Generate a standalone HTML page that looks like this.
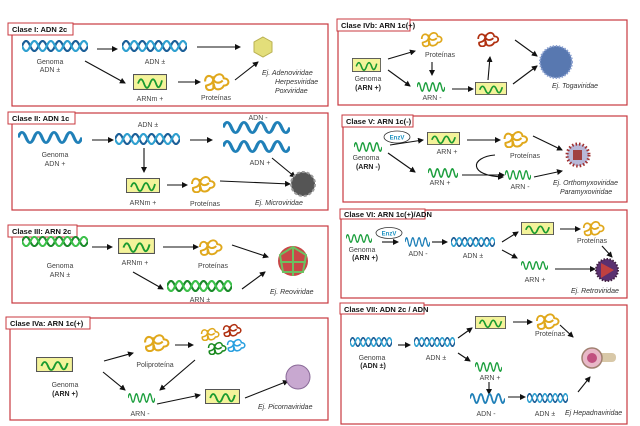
<!DOCTYPE html>
<html><head><meta charset="utf-8"><style>
html,body{margin:0;padding:0;background:#fff;}
svg{display:block;}
text{font-family:"Liberation Sans",sans-serif;font-size:7px;fill:#444;}
.t{font-weight:bold;font-size:7.5px;fill:#111;}
.b{font-weight:bold;fill:#222;}
.i{font-style:italic;fill:#333;}
.bx{fill:none;stroke:#c8393f;stroke-width:1.2;}
.tb{fill:#fff;stroke:#c8393f;stroke-width:1;}
.a{stroke:#111;stroke-width:1.1;fill:none;marker-end:url(#ah);}
</style></head><body>
<svg width="640" height="426" viewBox="0 0 640 426" xmlns="http://www.w3.org/2000/svg">
<defs>
<marker id="ah" markerWidth="6" markerHeight="6" refX="5" refY="3" orient="auto" markerUnits="userSpaceOnUse"><path d="M0 0L6 3L0 6z" fill="#111"/></marker>
<symbol id="hB" viewBox="0 0 64 12" preserveAspectRatio="none"><path d="M0 6 q4 -10 8 0 t8 0 t8 0 t8 0 t8 0 t8 0 t8 0 t8 0" stroke="#1b5f98" stroke-width="2.2" fill="none"/><path d="M0 6 q4 10 8 0 t8 0 t8 0 t8 0 t8 0 t8 0 t8 0 t8 0" stroke="#2fa0d0" stroke-width="2.2" fill="none"/></symbol>
<symbol id="hG" viewBox="0 0 64 12" preserveAspectRatio="none"><path d="M0 6 q4 -10 8 0 t8 0 t8 0 t8 0 t8 0 t8 0 t8 0 t8 0" stroke="#1a8a2a" stroke-width="2.2" fill="none"/><path d="M0 6 q4 10 8 0 t8 0 t8 0 t8 0 t8 0 t8 0 t8 0 t8 0" stroke="#3cc04a" stroke-width="2.2" fill="none"/></symbol>
<symbol id="wB" viewBox="0 0 40 10" preserveAspectRatio="none"><path d="M0 5 q2.5 -8 5 0 t5 0 t5 0 t5 0 t5 0 t5 0 t5 0 t5 0" stroke="#2080b8" stroke-width="2" fill="none"/></symbol>
<symbol id="wG" viewBox="0 0 40 10" preserveAspectRatio="none"><path d="M0 5 q2.5 -8 5 0 t5 0 t5 0 t5 0 t5 0 t5 0 t5 0 t5 0" stroke="#1fa040" stroke-width="2" fill="none"/></symbol>
<symbol id="rb" viewBox="0 0 34 15" preserveAspectRatio="none"><rect x="0.5" y="0.5" width="33" height="14" fill="#f4f39a" stroke="#555" stroke-width="1"/><path d="M5 9 q3 -8 6 0 t6 0 t6 0 t6 -3" stroke="#1a9a30" stroke-width="1.8" fill="none"/></symbol>
<symbol id="p" viewBox="0 0 26 18"><path d="M2 9 c0 -7 7 -7 8 -1 c1 -7 9 -8 10 -2 c6 0 6 7 0 7 c-2 4 -8 5 -9 1 c-2 5 -9 4 -8 -1 c3 -1 6 -1 7 -6 c2 4 6 4 9 1 M10 4 v12" stroke="currentColor" stroke-width="2" fill="none"/></symbol>
</defs>

<!-- Clase I -->
<rect class="bx" x="12" y="24" width="316" height="82"/>
<rect class="tb" x="8" y="23" width="65" height="12"/><text class="t" x="12" y="32">Clase I: ADN 2c</text>
<use href="#hB" x="22" y="40" width="66" height="12"/>
<text x="50" y="64" text-anchor="middle">Genoma</text><text x="50" y="72" text-anchor="middle">ADN ±</text>
<line class="a" x1="97" y1="49" x2="117" y2="49"/>
<use href="#hB" x="122" y="40" width="65" height="12"/>
<text x="155" y="64" text-anchor="middle">ADN ±</text>
<line class="a" x1="197" y1="47" x2="240" y2="47"/>
<polygon points="263,37 272,42 272,52 263,57 254,52 254,42" fill="#e3de7a" stroke="#b9b050"/>
<line class="a" x1="85" y1="61" x2="125" y2="83"/>
<use href="#rb" x="133" y="74" width="34" height="16"/>
<text x="150" y="101" text-anchor="middle">ARNm +</text>
<line class="a" x1="178" y1="82" x2="200" y2="82"/>
<use href="#p" x="203" y="72" width="27" height="19" color="#e0a81c"/>
<text x="216" y="100" text-anchor="middle">Proteínas</text>
<line class="a" x1="235" y1="80" x2="258" y2="62"/>
<text class="i" x="262" y="75">Ej. Adenoviridae</text>
<text class="i" x="275" y="84">Herpesviridae</text>
<text class="i" x="275" y="93">Poxviridae</text>

<!-- Clase II -->
<rect class="bx" x="12" y="113" width="316" height="97"/>
<rect class="tb" x="8" y="112" width="67" height="12"/><text class="t" x="12" y="121">Clase II: ADN 1c</text>
<use href="#wB" x="18" y="131" width="64" height="13"/>
<text x="55" y="157" text-anchor="middle">Genoma</text><text x="55" y="166" text-anchor="middle">ADN +</text>
<line class="a" x1="92" y1="140" x2="113" y2="140"/>
<use href="#hB" x="115" y="133" width="65" height="12"/>
<text x="148" y="127" text-anchor="middle">ADN ±</text>
<line class="a" x1="190" y1="140" x2="212" y2="140"/>
<text x="258" y="120" text-anchor="middle">ADN -</text>
<use href="#wB" x="223" y="121" width="67" height="13"/>
<use href="#wB" x="223" y="140" width="67" height="13"/>
<text x="260" y="165" text-anchor="middle">ADN +</text>
<line class="a" x1="144" y1="148" x2="144" y2="172"/>
<use href="#rb" x="126" y="178" width="34" height="15"/>
<text x="143" y="205" text-anchor="middle">ARNm +</text>
<line class="a" x1="167" y1="185" x2="187" y2="185"/>
<use href="#p" x="190" y="175" width="26" height="18" color="#e0a81c"/>
<text x="205" y="206" text-anchor="middle">Proteínas</text>
<line class="a" x1="220" y1="181" x2="290" y2="184"/>
<line class="a" x1="272" y1="158" x2="295" y2="177"/>
<circle cx="303" cy="184" r="12" fill="#555" stroke="#999" stroke-width="2" stroke-dasharray="3 2"/>
<text class="i" x="255" y="205">Ej. Microviridae</text>

<!-- Clase III -->
<rect class="bx" x="12" y="226" width="316" height="77"/>
<rect class="tb" x="8" y="225" width="69" height="12"/><text class="t" x="12" y="234">Clase III: ARN 2c</text>
<use href="#hG" x="22" y="236" width="66" height="11"/>
<text x="60" y="268" text-anchor="middle">Genoma</text><text x="60" y="277" text-anchor="middle">ARN ±</text>
<line class="a" x1="92" y1="247" x2="112" y2="247"/>
<use href="#rb" x="118" y="238" width="37" height="16"/>
<text x="135" y="265" text-anchor="middle">ARNm +</text>
<line class="a" x1="163" y1="247" x2="198" y2="247"/>
<use href="#p" x="198" y="238" width="25" height="18" color="#e0a81c"/>
<text x="213" y="268" text-anchor="middle">Proteínas</text>
<line class="a" x1="232" y1="245" x2="268" y2="257"/>
<line class="a" x1="133" y1="272" x2="163" y2="289"/>
<use href="#hG" x="167" y="280" width="65" height="12"/>
<text x="200" y="302" text-anchor="middle">ARN ±</text>
<line class="a" x1="242" y1="289" x2="265" y2="272"/>
<circle cx="293" cy="261" r="15" fill="#c84848"/>
<path d="M280 255 L293 247 L306 255 L303 272 L283 272 Z M293 247 L293 276 M280 262 L306 262" stroke="#6cc060" stroke-width="2" fill="none"/>
<text class="i" x="270" y="294">Ej. Reoviridae</text>

<!-- Clase IVa -->
<rect class="bx" x="10" y="318" width="318" height="102"/>
<rect class="tb" x="6" y="317" width="84" height="12"/><text class="t" x="10" y="326">Clase IVa: ARN 1c(+)</text>
<use href="#rb" x="36" y="357" width="37" height="15"/>
<text x="65" y="387" text-anchor="middle">Genoma</text><text class="b" x="65" y="396" text-anchor="middle">(ARN +)</text>
<line class="a" x1="104" y1="361" x2="133" y2="353"/>
<use href="#p" x="143" y="333" width="27" height="19" color="#e0a81c"/>
<text x="155" y="367" text-anchor="middle">Poliproteína</text>
<line class="a" x1="175" y1="345" x2="193" y2="345"/>
<use href="#p" x="200" y="327" width="20" height="14" color="#e0a81c"/>
<use href="#p" x="222" y="323" width="20" height="14" color="#b03010"/>
<use href="#p" x="207" y="341" width="20" height="14" color="#1a8a20"/>
<use href="#p" x="226" y="338" width="20" height="14" color="#2aa0e0"/>
<line class="a" x1="103" y1="372" x2="125" y2="390"/>
<line class="a" x1="195" y1="360" x2="160" y2="390"/>
<use href="#wG" x="128" y="393" width="27" height="10"/>
<text x="140" y="416" text-anchor="middle">ARN -</text>
<line class="a" x1="157" y1="404" x2="200" y2="395"/>
<use href="#rb" x="205" y="389" width="35" height="15"/>
<line class="a" x1="245" y1="398" x2="288" y2="381"/>
<circle cx="298" cy="377" r="12" fill="#c8a8d0" stroke="#8a6a98"/>
<text class="i" x="258" y="409">Ej. Picornaviridae</text>

<!-- Clase IVb -->
<rect class="bx" x="338" y="20" width="289" height="85"/>
<rect class="tb" x="337" y="19" width="73" height="12"/><text class="t" x="341" y="28">Clase IVb: ARN 1c(+)</text>
<use href="#rb" x="352" y="58" width="29" height="14"/>
<text x="368" y="81" text-anchor="middle">Genoma</text><text class="b" x="368" y="90" text-anchor="middle">(ARN +)</text>
<line class="a" x1="388" y1="59" x2="415" y2="51"/>
<use href="#p" x="420" y="30" width="23" height="18" color="#e0a81c"/>
<text x="440" y="57" text-anchor="middle">Proteínas</text>
<line class="a" x1="432" y1="62" x2="432" y2="75"/>
<line class="a" x1="388" y1="70" x2="410" y2="86"/>
<use href="#wG" x="417" y="82" width="28" height="10"/>
<text x="432" y="100" text-anchor="middle">ARN -</text>
<line class="a" x1="452" y1="89" x2="473" y2="89"/>
<use href="#rb" x="475" y="82" width="32" height="13"/>
<line class="a" x1="488" y1="80" x2="490" y2="57"/>
<use href="#p" x="475" y="31" width="26" height="16" color="#b03010"/>
<line class="a" x1="515" y1="40" x2="537" y2="56"/>
<line class="a" x1="513" y1="84" x2="537" y2="66"/>
<circle cx="556" cy="62" r="16" fill="#5878b0" stroke="#8aa0d0" stroke-width="2" stroke-dasharray="1.5 1.5"/>
<text class="i" x="552" y="88">Ej. Togaviridae</text>

<!-- Clase V -->
<rect class="bx" x="343" y="116" width="284" height="86"/>
<rect class="tb" x="342" y="115" width="71" height="12"/><text class="t" x="346" y="124">Clase V: ARN 1c(-)</text>
<use href="#wG" x="354" y="142" width="28" height="10"/>
<text x="366" y="160" text-anchor="middle">Genoma</text><text class="b" x="368" y="169" text-anchor="middle">(ARN -)</text>
<ellipse cx="397" cy="137" rx="13" ry="6" fill="#fff" stroke="#333" stroke-width="0.8"/>
<text x="397" y="139.5" text-anchor="middle" style="fill:#1a90c0;font-weight:bold;font-size:6px">EnzV</text>
<line class="a" x1="390" y1="145" x2="423" y2="140"/>
<use href="#rb" x="427" y="132" width="33" height="13"/>
<text x="447" y="154" text-anchor="middle">ARN +</text>
<line class="a" x1="467" y1="140" x2="500" y2="140"/>
<use href="#p" x="502" y="130" width="27" height="18" color="#e0a81c"/>
<text x="525" y="158" text-anchor="middle">Proteínas</text>
<line class="a" x1="533" y1="136" x2="562" y2="150"/>
<circle cx="578" cy="155" r="11" fill="#b8b8d8" stroke="#a03030" stroke-width="3" stroke-dasharray="1.5 2"/>
<rect x="573" y="150" width="9" height="10" fill="#a04040"/>
<line class="a" x1="388" y1="153" x2="415" y2="172"/>
<use href="#wG" x="428" y="168" width="30" height="10"/>
<text x="440" y="185" text-anchor="middle">ARN +</text>
<line class="a" x1="462" y1="175" x2="504" y2="175"/>
<path class="a" d="M495 155 C470 157 468 176 503 177"/>
<use href="#wG" x="505" y="170" width="26" height="10"/>
<text x="520" y="189" text-anchor="middle">ARN -</text>
<line class="a" x1="534" y1="177" x2="562" y2="171"/>
<text class="i" x="553" y="185">Ej. Orthomyxoviridae</text>
<text class="i" x="560" y="194">Paramyxoviridae</text>

<!-- Clase VI -->
<rect class="bx" x="341" y="210" width="286" height="88"/>
<rect class="tb" x="340" y="209" width="85" height="10"/><text class="t" x="344" y="217">Clase VI: ARN 1c(+)/ADN</text>
<use href="#wG" x="346" y="234" width="26" height="9"/>
<text x="362" y="252" text-anchor="middle">Genoma</text><text class="b" x="365" y="260" text-anchor="middle">(ARN +)</text>
<ellipse cx="389" cy="233" rx="13" ry="5.5" fill="#fff" stroke="#333" stroke-width="0.8"/>
<text x="389" y="235.5" text-anchor="middle" style="fill:#1a90c0;font-weight:bold;font-size:6px">EnzV</text>
<line class="a" x1="382" y1="242" x2="398" y2="242"/>
<use href="#wB" x="405" y="237" width="25" height="10"/>
<text x="418" y="256" text-anchor="middle">ADN -</text>
<line class="a" x1="432" y1="242" x2="447" y2="242"/>
<use href="#hB" x="451" y="237" width="44" height="10"/>
<text x="473" y="258" text-anchor="middle">ADN ±</text>
<line class="a" x1="502" y1="242" x2="518" y2="232"/>
<use href="#rb" x="521" y="222" width="33" height="13"/>
<line class="a" x1="560" y1="229" x2="580" y2="229"/>
<use href="#p" x="582" y="219" width="23" height="18" color="#e0a81c"/>
<text x="592" y="243" text-anchor="middle">Proteínas</text>
<line class="a" x1="602" y1="246" x2="612" y2="257"/>
<line class="a" x1="502" y1="250" x2="517" y2="258"/>
<use href="#wG" x="521" y="261" width="27" height="9"/>
<text x="535" y="282" text-anchor="middle">ARN +</text>
<line class="a" x1="555" y1="269" x2="595" y2="269"/>
<circle cx="607" cy="270" r="11" fill="#5a3070" stroke="#402040" stroke-width="2" stroke-dasharray="1.5 1.5"/>
<polygon points="601,263 614,270 601,278" fill="#c04040"/>
<text class="i" x="571" y="293">Ej. Retroviridae</text>

<!-- Clase VII -->
<rect class="bx" x="341" y="305" width="286" height="119"/>
<rect class="tb" x="340" y="303" width="84" height="11"/><text class="t" x="344" y="312">Clase VII: ADN 2c / ADN</text>
<use href="#hB" x="350" y="337" width="42" height="10"/>
<text x="372" y="360" text-anchor="middle">Genoma</text><text class="b" x="373" y="368" text-anchor="middle">(ADN ±)</text>
<line class="a" x1="398" y1="345" x2="410" y2="345"/>
<use href="#hB" x="414" y="337" width="41" height="10"/>
<text x="436" y="360" text-anchor="middle">ADN ±</text>
<line class="a" x1="458" y1="338" x2="472" y2="328"/>
<use href="#rb" x="475" y="316" width="31" height="13"/>
<line class="a" x1="513" y1="322" x2="532" y2="322"/>
<use href="#p" x="535" y="312" width="25" height="18" color="#e0a81c"/>
<text x="550" y="336" text-anchor="middle">Proteínas</text>
<line class="a" x1="560" y1="325" x2="573" y2="337"/>
<line class="a" x1="458" y1="353" x2="470" y2="361"/>
<use href="#wG" x="475" y="362" width="27" height="10"/>
<text x="490" y="380" text-anchor="middle">ARN +</text>
<line class="a" x1="489" y1="382" x2="489" y2="394"/>
<use href="#wB" x="470" y="393" width="35" height="11"/>
<text x="486" y="416" text-anchor="middle">ADN -</text>
<line class="a" x1="508" y1="397" x2="525" y2="397"/>
<use href="#hB" x="527" y="393" width="41" height="10"/>
<text x="545" y="416" text-anchor="middle">ADN ±</text>
<text class="i" x="565" y="415">Ej Hepadnaviridae</text>
<line class="a" x1="578" y1="392" x2="590" y2="377"/>
<rect x="596" y="353" width="20" height="9" rx="4" fill="#d8c8a8"/>
<circle cx="592" cy="358" r="10" fill="#e8b8c8" stroke="#a08070" stroke-width="1.5"/>
<circle cx="592" cy="358" r="5" fill="#c05080"/>
</svg>
</body></html>
